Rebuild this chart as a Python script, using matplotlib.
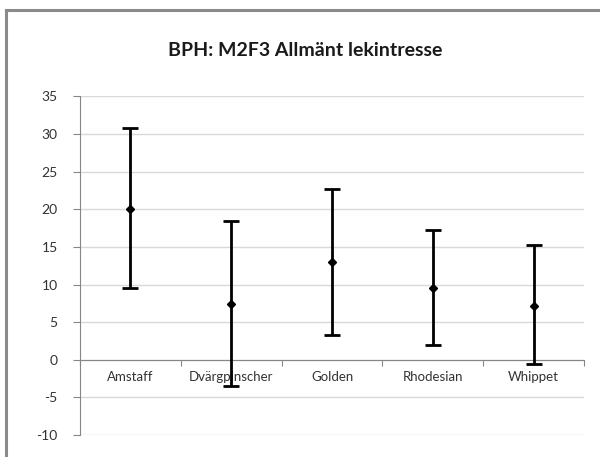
import matplotlib.pyplot as plt
import numpy as np
from matplotlib.lines import Line2D

# Data
breeds = ['Amstaff', 'Dvärgpinscher', 'Golden', 'Rhodesian', 'Whippet']
means = [20.1, 7.4, 13.0, 9.55, 7.2]
upper = [30.8, 18.4, 22.75, 17.3, 15.3]
lower = [9.5, -3.5, 3.3, 1.95, -0.6]
y_ticks = [-10, -5, 0, 5, 10, 15, 20, 25, 30, 35]

plt.rcParams['font.family'] = ['Lato', 'DejaVu Sans']
plt.rcParams['axes.unicode_minus'] = False

W, H = 607, 457
fig = plt.figure(figsize=(W / 100, H / 100), dpi=100)
fig.patch.set_facecolor('white')

# chart area border (left and top visible, the rest is cut off)
fig.add_artist(Line2D([6 / W, 6 / W], [0, 1 - 9.5 / H], transform=fig.transFigure,
                      color='#8a8a8a', lw=2.2))
fig.add_artist(Line2D([6 / W, 598 / W], [1 - 9.5 / H, 1 - 9.5 / H], transform=fig.transFigure,
                      color='#8a8a8a', lw=2.2))

ax = fig.add_axes([80 / W, 1 - 435 / H, (584 - 80) / W, (435 - 96.5) / H])
ax.set_facecolor('none')

x = np.arange(len(breeds))
m = np.array(means)
err = np.vstack([m - np.array(lower), np.array(upper) - m])
ax.errorbar(x, m, yerr=err, fmt='D', color='black', ms=4.5, elinewidth=2.0,
            capsize=6, capthick=2.0, zorder=3)

ax.set_xlim(-0.5, len(breeds) - 0.5)
ax.set_ylim(-10, 35)
ax.set_yticks(y_ticks)
ax.yaxis.grid(True, color='#d9d9d9', lw=1)
ax.set_axisbelow(True)

for s in ['top', 'right']:
    ax.spines[s].set_visible(False)
ax.spines['left'].set_color('#868686')
ax.spines['bottom'].set_color('#868686')
ax.spines['bottom'].set_position(('data', 0))

# tick marks at category boundaries, labels at centres
ax.set_xticks(np.arange(len(breeds) + 1) - 0.5)
ax.set_xticklabels([])
ax.set_xticks(x, minor=True)
ax.set_xticklabels(breeds, minor=True)
ax.tick_params(axis='x', which='major', length=4, color='#868686', direction='out')
ax.tick_params(axis='x', which='minor', length=0, pad=8, labelsize=9.5, labelcolor='#333333')
ax.tick_params(axis='y', length=5, color='#868686', labelsize=10, labelcolor='#333333', pad=11)

fig.text(305 / W, 1 - 50 / H, 'BPH: M2F3 Allmänt lekintresse', ha='center', va='center',
         fontsize=14, fontweight='bold', color='#1a1a1a')

fig.savefig('out.png', dpi=100)
